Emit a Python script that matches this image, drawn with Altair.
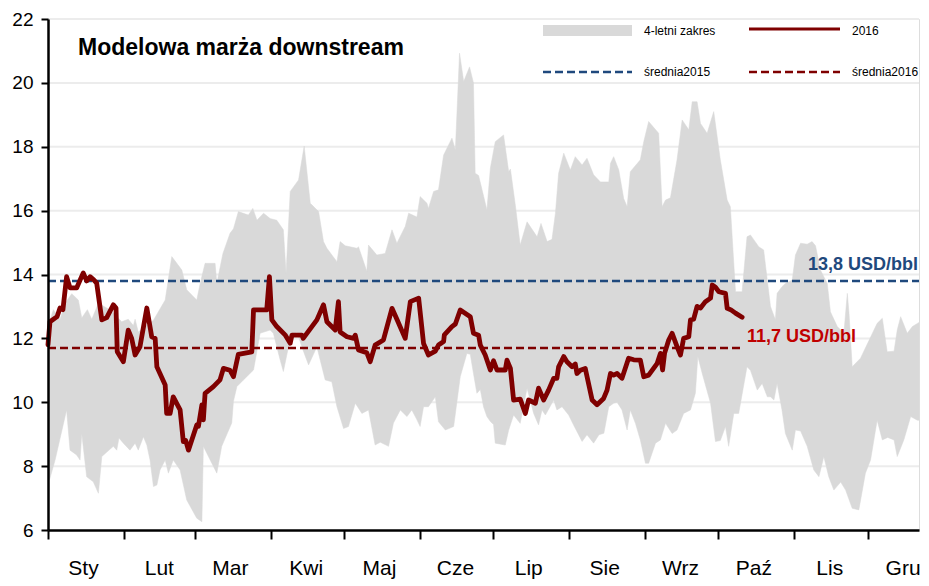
import altair as alt
import pandas as pd

# ---------------- data ----------------
month_starts = [0, 31, 60, 91, 121, 152, 182, 213, 244, 274, 305, 335]
month_labels = ["Sty", "Lut", "Mar", "Kwi", "Maj", "Cze", "Lip", "Sie", "Wrz", "Paź", "Lis", "Gru"]
y_ticks = [6, 8, 10, 12, 14, 16, 18, 20, 22]
grid_values = [8, 10, 12, 14, 16, 18, 20, 22]

# 2016 margin (day of year, USD/bbl)
line_day = [0, 0.8, 3.7, 4.9, 6.1, 7.6, 9.0, 11.7, 14.4, 15.8, 17.2, 18.5, 19.9, 22.0, 24.0, 26.7,
            27.8, 28.3, 30.8, 32.8, 34.2, 35.6, 37.6, 40.4, 42.4, 43.8, 44.5, 47.9, 48.5, 49.9, 51.2,
            54.0, 55.3, 56.3, 57.4, 60.8, 61.5, 62.9, 63.5, 64.2, 67.6, 70.3, 71.7, 74.4, 75.8, 77.8,
            83.3, 84.0, 89.4, 90.5, 91.5, 93.5, 96.9, 99.0, 99.7, 103.8, 104.3, 109.9, 112.6, 114.0,
            117.4, 118.7, 119.4, 122.2, 124.9, 125.6, 126.9, 130.3, 131.7, 133.7, 137.1, 140.6, 142.6,
            146.0, 148.1, 151.5, 153.5, 155.5, 158.3, 159.6, 161.7, 162.0, 165.1, 166.5, 168.5, 172.6,
            173.9, 176.0, 176.7, 178.7, 180.8, 182.1, 183.5, 186.9, 187.6, 189.0, 190.3, 193.0, 195.1,
            196.4, 199.2, 200.5, 202.6, 204.6, 206.7, 208.0, 208.7, 210.8, 212.1, 214.2, 215.5, 216.2,
            217.6, 219.6, 222.4, 224.4, 227.1, 228.5, 229.9, 231.2, 232.6, 234.6, 237.3, 239.4, 242.1,
            243.5, 245.5, 249.0, 250.3, 251.2, 252.0, 253.7, 255.1, 257.1, 258.5, 259.8, 261.9, 262.6,
            263.9, 265.3, 266.7, 268.7, 270.8, 271.5, 272.8, 274.2, 276.9, 277.6, 279.0, 281.0, 283.7]
line_val = [11.8, 12.52, 12.68, 12.95, 12.9, 13.93, 13.58, 13.58, 14.05, 13.8, 13.93, 13.85, 13.73, 12.58,
            12.65, 13.05, 12.95, 11.58, 11.27, 12.26, 12.0, 11.48, 11.74, 12.95, 12.05, 12.0, 11.11, 10.54,
            9.65, 9.65, 10.17, 9.76, 8.77, 8.8, 8.5, 9.29, 9.25, 9.92, 9.45, 10.28, 10.49, 10.7, 11.06,
            11.0, 10.8, 11.5, 11.58, 12.89, 12.89, 13.93, 12.58, 12.37, 12.11, 11.85, 12.1, 12.1, 12.0,
            12.58, 13.05, 12.52, 12.26, 13.15, 12.2, 12.05, 12.0, 12.1, 11.64, 11.55, 11.27, 11.79, 11.95,
            12.94, 12.6, 12.0, 13.15, 13.26, 11.84, 11.48, 11.6, 11.79, 11.9, 12.11, 12.37, 12.45, 12.89,
            12.68, 12.16, 12.1, 11.79, 11.48, 11.01, 11.3, 11.01, 11.01, 11.32, 11.06, 10.07, 10.1, 9.65,
            10.07, 9.97, 10.44, 10.07, 10.38, 10.75, 10.75, 11.11, 11.43, 11.27, 11.11, 11.2, 10.9, 11.0,
            11.06, 10.07, 9.92, 10.12, 10.38, 10.9, 10.85, 10.9, 10.75, 11.38, 11.33, 11.32, 10.8, 10.85,
            11.22, 11.53, 11.01, 11.53, 11.95, 12.16, 11.74, 11.48, 12.0, 12.05, 12.58, 12.6, 13.0, 12.95,
            13.15, 13.26, 13.67, 13.6, 13.46, 13.41, 12.94, 12.9, 12.79, 12.66]

# 4-year range: upper edge
up_day = [0, 0.8, 2.2, 4.9, 7.0, 9.7, 12.4, 13.8, 16.1, 17.9, 20.6, 25.4, 27.4, 30.1, 32.8, 34.9, 35.6,
          36.9, 43.1, 47.9, 50.6, 54.7, 56.7, 60.8, 62.2, 64.2, 68.3, 69.0, 71.5, 74.4, 75.8, 77.8, 81.9,
          83.7, 85.4, 88.1, 90.8, 93.5, 96.2, 97.3, 99.0, 102.4, 104.7, 107.2, 110.6, 112.6, 114.0, 118.1,
          119.4, 121.5, 126.3, 126.9, 130.3, 131.0, 134.4, 137.8, 140.6, 142.6, 146.0, 147.4, 150.8,
          152.1, 154.9, 155.5, 157.6, 159.6, 161.7, 165.1, 166.5, 168.2, 169.9, 172.3, 173.9, 174.6,
          176.0, 179.4, 180.8, 182.8, 186.2, 188.3, 189.0, 191.0, 193.0, 195.8, 199.9, 201.5, 204.0,
          206.0, 207.4, 208.7, 210.8, 213.5, 215.5, 218.3, 220.3, 223.0, 225.8, 229.2, 229.9, 231.2,
          233.3, 235.3, 236.7, 238.0, 242.1, 243.5, 245.5, 249.6, 251.0, 252.4, 254.4, 257.1, 259.2,
          261.9, 263.3, 265.3, 266.7, 269.4, 272.1, 274.8, 277.6, 278.9, 281.0, 283.7, 285.7, 287.1,
          290.5, 292.5, 295.3, 297.3, 298.0, 300.0, 301.4, 304.2, 305.5, 307.6, 310.3, 312.3, 313.7,
          315.7, 318.5, 319.8, 322.6, 325.3, 326.7, 327.4, 328.7, 332.1, 338.9, 341.0, 343.0, 345.8,
          347.1, 348.5, 351.2, 353.3, 356.0, 360.3]
up_val = [12.5, 12.57, 12.9, 12.6, 13.1, 13.4, 13.2, 12.64, 12.9, 12.6, 13.1, 12.89, 12.75, 12.52, 12.6,
          12.4, 12.6, 12.2, 12.57, 13.2, 14.56, 14.14, 13.52, 13.2, 13.72, 14.35, 14.35, 13.72, 14.66,
          15.29, 15.43, 15.97, 15.86, 16.07, 15.7, 15.92, 15.75, 15.7, 15.4, 14.04, 16.6, 16.96, 18.02,
          16.23, 15.97, 15.03, 14.82, 14.4, 15.03, 14.9, 14.82, 14.87, 14.1, 14.92, 14.61, 14.66, 15.4,
          14.98, 15.5, 15.92, 15.8, 16.44, 16.23, 16.07, 16.6, 16.65, 17.74, 18.27, 17.9, 20.93, 20.04,
          20.5, 20.0, 17.17, 17.1, 16.02, 17.33, 18.16, 18.37, 17.22, 17.3, 16.18, 14.92, 15.65, 15.18,
          15.6, 15.03, 15.1, 15.92, 17.17, 17.8, 17.27, 17.69, 17.43, 17.64, 17.12, 16.9, 16.9, 17.48,
          17.69, 17.27, 16.38, 16.12, 17.22, 17.59, 18.16, 18.79, 18.42, 16.12, 16.33, 16.4, 17.59,
          18.84, 18.53, 19.41, 19.41, 18.73, 18.42, 19.1, 17.59, 16.33, 16.12, 13.46, 13.46, 15.18,
          15.24, 14.87, 14.77, 13.0, 12.58, 13.41, 13.62, 13.72, 13.83, 14.61, 14.98, 14.95, 15.03,
          14.9, 14.14, 13.72, 12.83, 12.37, 12.16, 13.41, 12.79, 11.11, 11.38, 12.47, 12.63, 11.58,
          11.6, 12.26, 12.68, 12.16, 12.37, 12.5, 12.58]

# 4-year range: lower edge
lo_day = [0, 0.8, 2.9, 7.6, 9.0, 11.7, 13.1, 13.8, 15.8, 18.5, 20.6, 22.0, 26.7, 28.1, 29.0, 30.8, 33.5,
          35.6, 36.9, 39.0, 40.4, 41.7, 43.1, 44.5, 45.8, 47.9, 49.2, 51.2, 54.0, 56.7, 60.8, 62.9, 63.5,
          66.3, 69.0, 71.0, 75.1, 75.8, 77.2, 79.9, 84.0, 86.7, 90.8, 92.1, 94.9, 96.2, 98.3, 101.7,
          104.4, 106.5, 108.5, 109.9, 113.3, 116.0, 118.1, 120.8, 122.8, 125.6, 128.3, 131.0, 133.7,
          135.8, 139.2, 141.2, 144.0, 146.7, 148.7, 150.8, 152.1, 153.5, 155.5, 158.3, 159.6, 162.4,
          165.8, 168.5, 171.2, 172.6, 173.9, 175.3, 176.7, 178.0, 179.4, 180.8, 182.1, 182.8, 186.9,
          188.3, 190.3, 193.0, 195.8, 198.5, 200.5, 201.9, 203.3, 206.7, 208.0, 210.1, 212.8, 214.8,
          218.3, 220.3, 223.0, 225.2, 227.2, 229.2, 231.2, 232.6, 234.6, 236.7, 238.0, 240.1, 242.1,
          244.2, 245.5, 248.3, 250.3, 252.4, 255.1, 257.1, 259.8, 262.6, 264.6, 265.6, 267.4, 270.8,
          272.8, 274.8, 276.9, 278.2, 280.3, 282.3, 285.7, 287.1, 289.9, 291.9, 294.0, 295.3, 296.7,
          298.0, 300.0, 301.4, 304.2, 305.5, 307.6, 310.3, 313.0, 315.1, 317.1, 319.1, 321.2, 324.0,
          326.0, 328.7, 331.4, 334.1, 336.2, 338.9, 341.0, 343.2, 345.8, 347.1, 349.8, 352.6, 355.3,
          360.3]
lo_val = [7.5, 7.62, 8.19, 9.76, 8.5, 8.35, 8.19, 9.02, 7.67, 7.51, 7.15, 8.3, 8.62, 8.5, 8.88, 8.72,
          8.5, 8.72, 8.5, 8.92, 8.66, 8.19, 7.36, 7.41, 7.88, 8.19, 7.78, 8.19, 7.88, 6.94, 6.37, 6.26,
          8.62, 8.19, 7.78, 8.62, 9.35, 10.03, 10.49, 10.7, 11.01, 12.16, 12.26, 12.16, 11.32, 10.96,
          11.74, 12.2, 11.6, 11.17, 11.5, 11.74, 10.7, 10.64, 9.86, 9.18, 9.24, 9.97, 9.65, 9.76, 8.66,
          8.75, 8.62, 9.35, 9.76, 9.55, 9.76, 9.45, 9.24, 9.86, 9.86, 10.17, 9.39, 9.13, 9.24, 10.8,
          11.53, 11.5, 10.9, 10.28, 10.4, 9.86, 9.55, 9.4, 9.3, 8.72, 8.66, 9.13, 9.6, 9.34, 10.44,
          9.65, 9.29, 9.76, 9.6, 10.07, 9.76, 9.86, 9.6, 9.29, 8.77, 8.98, 8.72, 8.98, 9.03, 9.86, 9.97,
          10.0, 9.76, 9.13, 9.76, 9.34, 8.82, 8.09, 8.09, 8.72, 8.82, 9.34, 9.02, 9.13, 9.65, 9.76,
          10.28, 11.43, 10.9, 9.97, 8.77, 8.8, 9.24, 8.62, 9.65, 9.65, 11.11, 11.0, 10.38, 10.59, 10.17,
          10.17, 10.07, 10.59, 9.76, 9.02, 8.5, 9.13, 9.1, 8.62, 7.88, 7.67, 8.3, 7.67, 7.25, 7.5, 7.25,
          6.68, 6.63, 7.78, 8.19, 9.44, 8.82, 8.9, 8.82, 8.3, 8.82, 9.55, 9.44, 9.39]

mean_2015 = 13.8
mean_2016 = 11.7
mean_2015_label = "13,8 USD/bbl"
mean_2016_label = "11,7 USD/bbl"
title_text = "Modelowa marża downstream"
legend_labels = ["4-letni zakres", "2016", "średnia2015", "średnia2016"]

X_MAX = 356
W, H = 871, 511

FONT = "'Liberation Sans', Arial, sans-serif"
GRAY = "#d9d9d9"
RED = "#7f0000"
BLUE = "#1f497d"
LRED = "#c00000"
GRID = "#ececec"

# ---------------- frames ----------------
n_up = len(up_day)
band_df = pd.DataFrame({
    "day": up_day + lo_day[::-1],
    "val": up_val + lo_val[::-1],
    "ord": list(range(n_up + len(lo_day))),
})
line_df = pd.DataFrame({"day": line_day, "val": line_val})
grid_df = pd.DataFrame({"val": grid_values})
one = pd.DataFrame({"k": [0]})

xscale = alt.Scale(domain=[0, X_MAX], nice=False, zero=False)
yscale = alt.Scale(domain=[6, 22], nice=False, zero=False)

label_expr = "[" + ",".join("'%s'" % m for m in month_labels) + "][indexof([" + \
    ",".join(str(v) for v in month_starts) + "], datum.value)]"

x_axis = alt.Axis(values=month_starts, labelExpr=label_expr, labelOffset=35, grid=False,
                  tickSize=9, tickWidth=2, tickColor="black", domainColor="black", domainWidth=2.5,
                  labelFont=FONT, labelFontSize=21, labelColor="black", labelPadding=18,
                  labelAlign="center", labelFlush=False, labelOverlap=False, title=None, zindex=1)
y_axis = alt.Axis(values=y_ticks, grid=False,
                  tickSize=7, tickWidth=2, tickColor="black", domainColor="black", domainWidth=2.5,
                  labelFont=FONT, labelFontSize=19, labelColor="black", labelPadding=8,
                  title=None, zindex=1)

gridlines = alt.Chart(grid_df).mark_rule(color=GRID, strokeWidth=2).encode(
    y=alt.Y("val:Q", scale=yscale, axis=y_axis))

band = alt.Chart(band_df).mark_line(fill=GRAY, stroke=GRAY, strokeWidth=0.5, clip=True).encode(
    x=alt.X("day:Q", scale=xscale, axis=x_axis),
    y=alt.Y("val:Q", scale=yscale, axis=y_axis),
    order=alt.Order("ord:Q"),
)

rule15 = alt.Chart(pd.DataFrame({"start": [0], "end": [X_MAX + 10], "val": [mean_2015]})).mark_rule(
    color=BLUE, strokeWidth=2.5, strokeDash=[8, 4], clip=True).encode(
    x="start:Q", x2="end:Q", y="val:Q")
rule16 = alt.Chart(pd.DataFrame({"start": [0], "end": [line_day[-1]], "val": [mean_2016]})).mark_rule(
    color=RED, strokeWidth=2.5, strokeDash=[8, 4], clip=True).encode(
    x="start:Q", x2="end:Q", y="val:Q")

line = alt.Chart(line_df).mark_line(color=RED, strokeWidth=4.8, strokeJoin="round",
                                    strokeCap="round").encode(x="day:Q", y="val:Q")

lab16 = alt.Chart(pd.DataFrame({"day": [line_day[-1] + 2], "val": [mean_2016], "t": [mean_2016_label]})).mark_text(
    align="left", baseline="middle", dy=-11, font=FONT, fontSize=18, fontWeight="bold", color=LRED
).encode(x="day:Q", y="val:Q", text="t:N")
lab15 = alt.Chart(pd.DataFrame({"val": [mean_2015], "t": [mean_2015_label]})).mark_text(
    align="right", baseline="middle", dy=-16, font=FONT, fontSize=18, fontWeight="bold", color=BLUE
).encode(x=alt.value(W - 1), y="val:Q", text="t:N")

title = alt.Chart(one).mark_text(align="left", baseline="middle", font=FONT, fontSize=23,
                                 fontWeight="bold", color="black").encode(
    x=alt.value(30), y=alt.value(29), text=alt.value(title_text))

leg_rect = alt.Chart(one).mark_rect(color=GRAY).encode(
    x=alt.value(495), x2=alt.value(584), y=alt.value(6), y2=alt.value(17))
leg_line = alt.Chart(one).mark_rule(color=RED, strokeWidth=3).encode(
    x=alt.value(701), x2=alt.value(792), y=alt.value(10))
leg_d15 = alt.Chart(one).mark_rule(color=BLUE, strokeWidth=2.5, strokeDash=[8, 4]).encode(
    x=alt.value(495), x2=alt.value(584), y=alt.value(53))
leg_d16 = alt.Chart(one).mark_rule(color=RED, strokeWidth=2.5, strokeDash=[8, 4]).encode(
    x=alt.value(701), x2=alt.value(792), y=alt.value(53))

def leg_text(txt, x, y):
    return alt.Chart(one).mark_text(align="left", baseline="middle", font=FONT, fontSize=12,
                                    color="black").encode(
        x=alt.value(x), y=alt.value(y), text=alt.value(txt))

legend_txt = [leg_text(legend_labels[0], 596, 12), leg_text(legend_labels[1], 804, 12),
              leg_text(legend_labels[2], 596, 53), leg_text(legend_labels[3], 804, 53)]

chart = alt.layer(gridlines, band, rule15, rule16, line, lab16, lab15, title,
                  leg_rect, leg_line, leg_d15, leg_d16, *legend_txt).properties(
    width=W, height=H,
    autosize=alt.AutoSizeParams(type="none"),
    padding={"left": 40, "top": 11, "right": 2, "bottom": 52},
).configure_view(strokeWidth=0).configure(background="white")

chart.save("out.html", embed_options={"renderer": "svg", "actions": False})
